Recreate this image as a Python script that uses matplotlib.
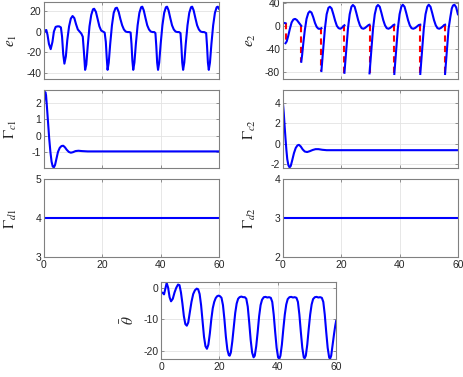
import numpy as np
import matplotlib.pyplot as plt

# ---- data ----
e1_t = [0, 0.4, 0.8, 1.2, 1.7, 2.3, 2.9, 3.4, 4.0, 4.6, 5.2, 5.8, 6.2, 6.6, 7.0, 7.5,
        8.0, 8.6, 9.2, 9.8, 10.4, 11.0, 11.6, 12.2, 12.8, 13.3, 13.7, 14.1, 14.5, 15.0,
        15.6, 16.2, 16.8, 17.2, 17.8, 18.4, 19.0, 19.6, 20.2, 20.8, 21.2, 21.5, 21.8,
        22.2, 22.7, 23.3, 23.9, 24.5, 25.0, 25.6, 26.2, 26.8, 27.4, 28.0, 28.6, 29.2,
        29.7, 30.0, 30.3, 30.6, 31.0, 31.5, 32.1, 32.7, 33.3, 33.7, 34.2, 34.8, 35.4,
        36.0, 36.6, 37.2, 37.8, 38.2, 38.5, 38.8, 39.1, 39.5, 40.0, 40.6, 41.2, 41.8,
        42.2, 42.7, 43.3, 43.9, 44.5, 45.1, 45.7, 46.3, 46.8, 47.1, 47.4, 47.7, 48.1,
        48.6, 49.2, 49.8, 50.4, 50.8, 51.3, 51.9, 52.5, 53.1, 53.7, 54.3, 54.9, 55.6,
        55.9, 56.2, 56.5, 56.9, 57.4, 58.0, 58.6, 59.2, 59.6, 60.0]
e1_v = [-1.5, 1, 1.5, -3, -12, -17, -10, 0, 4.5, 5, 5, 4, -5, -22, -31, -24,
        -8, 5, 12.5, 15, 13, 7, 2, 0, -2, -5, -20, -37, -32, -14,
        5, 16, 21.5, 22, 19, 12, 5, 1, 0, -1, -10, -25, -37,
        -30, -12, 6, 18, 22.5, 23, 19, 12, 6, 2, 0, -0.5, -0.5,
        -1, -12, -28, -37, -30, -12, 6, 18, 23.5, 24, 20.5, 13, 6,
        2, 0, -0.5, -0.5, -1.5, -14, -30, -37, -30, -12, 6, 18, 23.5,
        24, 20.5, 13, 6, 2, 0, -0.5, -0.5, -1.5, -14, -30, -37, -30,
        -12, 6, 18, 23.5, 24, 20.5, 13, 6, 2, 0, -0.5, -0.5, -1.5,
        -14, -30, -37, -30, -12, 6, 18, 23.5, 24, 22]

nan = np.nan
e2_t = [0, 0.5, 0.9, nan,
        0.9, 1.3, 1.8, 2.4, 3.0, 3.6, 4.2, 4.8, 5.4, 6.0, 6.3, nan,
        6.3, 6.6, 7.0, 7.5, 8.1, 8.7, 9.2, 9.8, 10.4, 11.0, 11.6, 12.2, 12.8, 13.2, nan,
        13.2, 13.5, 13.9, 14.4, 15.0, 15.6, 16.1, 16.7, 17.3, 17.9, 18.5, 19.1, 19.7,
        20.3, 20.8, 21.1, nan,
        21.1, 21.4, 21.8, 22.3, 22.9, 23.5, 24.0, 24.6, 25.2, 25.8, 26.4, 27.0, 27.6,
        28.2, 28.8, 29.4, 29.7, nan,
        29.7, 30.0, 30.4, 30.9, 31.5, 32.1, 32.6, 33.2, 33.8, 34.4, 35.0, 35.6, 36.2,
        36.8, 37.4, 37.9, 38.2, nan,
        38.2, 38.5, 38.9, 39.4, 40.0, 40.6, 41.1, 41.7, 42.3, 42.9, 43.5, 44.1, 44.7,
        45.4, 46.0, 46.6, 47.1, nan,
        47.1, 47.4, 47.8, 48.3, 48.9, 49.5, 50.0, 50.6, 51.2, 51.8, 52.4, 53.0, 53.6,
        54.2, 54.8, 55.3, 55.6, nan,
        55.6, 55.9, 56.3, 56.8, 57.4, 57.9, 58.3, 58.8, 59.4, 60.0]
e2_v = [5, 5, 4.5, nan,
        -30, -27, -18, -5, 6, 11, 12, 10, 6, 2, 0, nan,
        -62, -50, -30, -8, 12, 22, 25, 23, 15, 5, -2, -5, -5, -4, nan,
        -78, -60, -35, -5, 20, 31, 33, 30, 20, 9, 0, -4, -5,
        -3, 0, 1, nan,
        -81, -62, -35, -5, 20, 33, 36, 33, 22, 10, 1, -4, -5,
        -3.5, -1, 1.5, 2, nan,
        -82, -63, -36, -5, 20, 33, 36, 33, 22, 10, 1, -4, -5,
        -3.5, -1, 1.5, 2, nan,
        -83, -64, -37, -5, 20, 33, 36.5, 33, 22, 10, 1, -4, -5,
        -3.5, -1, 1.5, 2, nan,
        -83, -64, -37, -5, 20, 33, 36.5, 33, 22, 10, 1, -4, -5,
        -3.5, -1, 1.5, 2, nan,
        -83, -64, -37, -5, 15, 30, 35, 36.5, 32, 20]

jump_t = [0.9, 6.3, 13.2, 21.1, 29.7, 38.2, 47.1, 55.6]
jump_from = [4.5, 0, -4, 1, 2, 2, 2, 2]
jump_to = [-30, -62, -78, -81, -82, -83, -83, -83]

gc1_t = [0, 0.2, 0.45, 0.7, 1.0, 1.4, 1.8, 2.2, 2.6, 3.0, 3.4, 3.8, 4.3, 4.8, 5.4,
         6.0, 6.6, 7.2, 7.8, 8.5, 9.2, 9.9, 10.8, 11.8, 13, 15, 60]
gc1_v = [2.0, 2.5, 2.68, 2.5, 1.8, 0.8, -0.2, -1.0, -1.6, -1.9, -1.95, -1.8, -1.4,
         -1.0, -0.75, -0.64, -0.62, -0.72, -0.87, -1.0, -1.05, -1.02, -0.95, -0.93,
         -0.95, -0.97, -0.97]

gc2_t = [0, 0.3, 0.6, 0.9, 1.2, 1.5, 1.9, 2.3, 2.7, 3.2, 3.8, 4.4, 5.0, 5.5, 6.1,
         6.8, 7.5, 8.3, 9.2, 10.2, 11.2, 12.2, 13.5, 15, 60]
gc2_v = [4.0, 3.0, 1.7, 0.5, -0.6, -1.5, -2.1, -2.3, -2.15, -1.6, -0.9, -0.4, -0.15,
         -0.1, -0.25, -0.55, -0.75, -0.8, -0.72, -0.6, -0.52, -0.52, -0.58, -0.62, -0.62]

gd1_t = [0, 60]
gd1_v = [4, 4]
gd2_t = [0, 60]
gd2_v = [3, 3]

th_t = [0, 0.5, 1.0, 1.4, 1.9, 2.4, 2.9, 3.4, 4.0, 4.6, 5.2, 5.8, 6.3, 6.8, 7.3, 7.8,
        8.3, 8.8, 9.3, 9.8, 10.4, 11.0, 11.6, 12.2, 12.7, 13.2, 13.7, 14.2, 14.7, 15.2,
        15.7, 16.2, 16.7, 17.2, 17.7, 18.2, 18.7, 19.2, 19.7, 20.2, 20.7, 21.2, 21.7,
        22.2, 22.7, 23.2, 23.5, 23.9, 24.4, 24.9, 25.4, 25.9, 26.4, 26.9, 27.5, 28.1,
        28.7, 29.2, 29.7, 30.2, 30.7, 31.2, 31.7, 32.1, 32.6, 33.1, 33.6, 34.1, 34.6,
        35.2, 35.8, 36.4, 37.0, 37.6, 38.1, 38.6, 39.1, 39.6, 40.1, 40.5, 40.9, 41.4,
        41.9, 42.4, 42.9, 43.4, 44.0, 44.6, 45.2, 45.8, 46.4, 46.9, 47.4, 47.9, 48.4,
        48.9, 49.2, 49.6, 50.1, 50.6, 51.1, 51.6, 52.1, 52.7, 53.3, 53.9, 54.5, 55.1,
        55.6, 56.1, 56.6, 57.1, 57.6, 57.9, 58.3, 58.8, 59.3, 59.7, 60.0]
th_v = [-1.5, -1.6, -2.1, -0.5, 1.5, 0, -3, -4.3, -3.5, -1.5, 0, 1, 0.8, -1.5, -5, -9,
        -11.5, -12, -11, -8, -4.5, -2, -0.8, -0.3, -0.5, -2, -5.5, -10.5, -15.5, -18.5,
        -19.3, -18, -14.5, -10, -6.5, -4.5, -3.3, -2.7, -2.5, -2.7, -3.2, -5.5, -10,
        -15.5, -19.5, -21.3, -21.5, -20.5, -17, -12.5, -8, -5, -3.5, -3, -2.8, -3,
        -3, -3.5, -6, -11, -16.5, -20.5, -22, -21.5, -18.5, -14, -9, -5.5, -3.8,
        -3, -2.9, -3.1, -3, -3.2, -4.5, -8.5, -14, -19, -22, -22.5, -21.5, -18,
        -13, -8.5, -5.3, -3.6, -3, -2.9, -3.1, -3, -3.2, -4.5, -8.5, -14, -19,
        -22, -22.3, -21.5, -18, -13, -8.5, -5.3, -3.6, -3, -2.9, -3.1, -3, -3.2,
        -4.5, -8.5, -14, -19, -22, -22.5, -21.5, -18, -14.5, -12, -10.5]

x_ticks = [0, 20, 40, 60]

BLUE = "#0000ff"
RED = "#ff0000"
TXT = "#262626"
EDGE = "#808080"

plt.rcParams["font.family"] = "Liberation Sans"
plt.rcParams["mathtext.fontset"] = "stix"
plt.rcParams["axes.unicode_minus"] = False


def style(ax, ylim, yticks, ylabel, xlabels=False):
    ax.set_xlim(0, 60)
    ax.set_ylim(*ylim)
    ax.set_xticks(x_ticks)
    ax.set_yticks(yticks)
    if not xlabels:
        ax.set_xticklabels([])
    ax.grid(True, color="#e3e3e3", linewidth=0.6)
    ax.set_axisbelow(True)
    for sp in ax.spines.values():
        sp.set_color(EDGE)
        sp.set_linewidth(0.8)
    ax.tick_params(direction="in", top=True, right=True, length=2.5, width=0.6,
                   color=EDGE, labelcolor=TXT, labelsize=7.5, pad=2)
    ax.set_ylabel(ylabel, fontsize=11, color=TXT)
    ax.yaxis.set_label_coords(-0.14, 0.5)


fig = plt.figure(figsize=(4.63, 3.77), dpi=100)
w = 0.378
h = 0.206
xl, xr = 0.095, 0.611
ys = [0.790, 0.554, 0.318]

ax1 = fig.add_axes([xl, ys[0], w, h])
ax1.plot(e1_t, e1_v, color=BLUE, lw=1.5)
style(ax1, (-46, 29), [-40, -20, 0, 20], r"$e_1$")

ax2 = fig.add_axes([xr, ys[0], w, h])
for t, a, b in zip(jump_t, jump_from, jump_to):
    ax2.plot([t, t], [a, b], color=RED, lw=1.5, dashes=(3, 2))
ax2.plot(e2_t, e2_v, color=BLUE, lw=1.5)
style(ax2, (-92, 42), [-80, -40, 0, 40], r"$e_2$")

ax3 = fig.add_axes([xl, ys[1], w, h])
ax3.plot(gc1_t, gc1_v, color=BLUE, lw=1.5)
style(ax3, (-2.0, 2.78), [-1, 0, 1, 2], r"$\Gamma_{c1}$")

ax4 = fig.add_axes([xr, ys[1], w, h])
ax4.plot(gc2_t, gc2_v, color=BLUE, lw=1.5)
style(ax4, (-2.37, 5.2), [-2, 0, 2, 4], r"$\Gamma_{c2}$")

ax5 = fig.add_axes([xl, ys[2], w, h])
ax5.plot(gd1_t, gd1_v, color=BLUE, lw=1.5)
style(ax5, (3, 5), [3, 4, 5], r"$\Gamma_{d1}$", xlabels=True)

ax6 = fig.add_axes([xr, ys[2], w, h])
ax6.plot(gd2_t, gd2_v, color=BLUE, lw=1.5)
style(ax6, (2, 4), [2, 3, 4], r"$\Gamma_{d2}$", xlabels=True)

ax7 = fig.add_axes([0.348, 0.048, w, 0.204])
ax7.plot(th_t, th_v, color=BLUE, lw=1.5)
style(ax7, (-22.5, 1.8), [-20, -10, 0], r"$\bar{\theta}$", xlabels=True)

fig.savefig("out.png", dpi=100)
